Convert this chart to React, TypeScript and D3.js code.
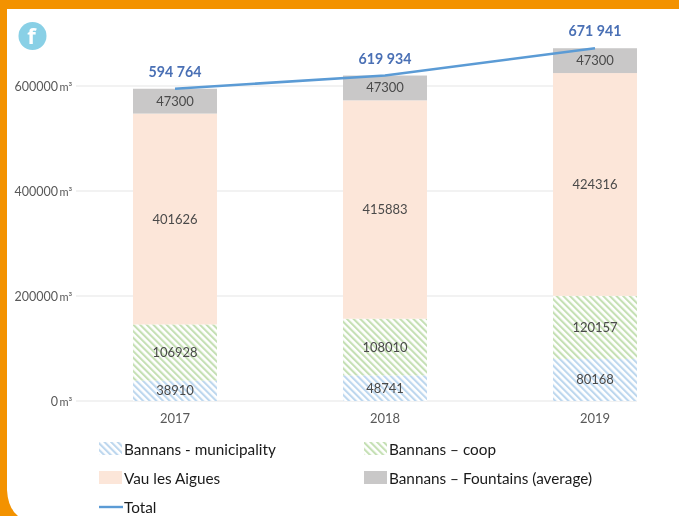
import React from "react";
import * as d3 from "d3";

const years = ["2017", "2018", "2019"];
const municipality = [38910, 48741, 80168];
const coop = [106928, 108010, 120157];
const vau = [401626, 415883, 424316];
const fountains = [47300, 47300, 47300];
const totals = [594764, 619934, 671941];
const totalLabels = ["594 764", "619 934", "671 941"];
const yTicks = [0, 200000, 400000, 600000];
const legendRows = [
  { label: "Bannans - municipality", fill: "url(#pBlue)", kind: "rect", col: 0, row: 0 },
  { label: "Bannans – coop", fill: "url(#pGreen)", kind: "rect", col: 1, row: 0 },
  { label: "Vau les Aigues", fill: "#fce6d9", kind: "rect", col: 0, row: 1 },
  { label: "Bannans – Fountains (average)", fill: "#c9c8c8", kind: "rect", col: 1, row: 1 },
  { label: "Total", fill: "#5b9bd5", kind: "line", col: 0, row: 2 },
];

const seriesKeys = ["municipality", "coop", "vau", "fountains"];
const seriesFills = ["url(#pBlue)", "url(#pGreen)", "#fce6d9", "#c9c8c8"];
const rows = years.map((y, i) => ({
  year: y,
  municipality: municipality[i],
  coop: coop[i],
  vau: vau[i],
  fountains: fountains[i],
}));

const FONT = "Lato, 'Open Sans', sans-serif";

export default function App() {
  const x = d3.scaleBand().domain(years).range([70, 700]).paddingInner(0.6).paddingOuter(0.3);
  const y = d3.scaleLinear().domain([0, 600000]).range([401, 86]);
  const stack = d3.stack<any>().keys(seriesKeys)(rows);
  const cx = (yr: string) => (x(yr) as number) + x.bandwidth() / 2;
  const line = d3
    .line<number>()
    .x((_, i) => cx(years[i]))
    .y((d) => y(d));
  const legendX = [99, 364];
  const legendY = [449, 478, 507];

  return (
    <svg
      width={679}
      height={516}
      viewBox="0 0 679 516"
      style={{ position: "absolute", left: 0, top: 0, display: "block", background: "#fff", filter: "blur(0.35px)" }}
    >
      <defs>
        <pattern id="pBlue" width="4.7" height="4.7" patternUnits="userSpaceOnUse" patternTransform="rotate(-45)">
          <rect width="4.7" height="4.7" fill="#fff" />
          <rect width="2.1" height="4.7" fill="#bdd7ee" />
        </pattern>
        <pattern id="pGreen" width="4.7" height="4.7" patternUnits="userSpaceOnUse" patternTransform="rotate(-45)">
          <rect width="4.7" height="4.7" fill="#fff" />
          <rect width="2.1" height="4.7" fill="#c5e0b4" />
        </pattern>
      </defs>

      <path d="M0 0H679V9H7V490Q8 508 18 516H0Z" fill="#f39200" />
      <circle cx={32.5} cy={36} r={14} fill="#89d0e6" />
      <text x={31.5} y={44} textAnchor="middle" fontFamily="'Open Sans', sans-serif" fontWeight={700} fontSize={22} fill="#fff">
        f
      </text>

      {yTicks.map((t) => (
        <g key={t}>
          <line x1={76} x2={637} y1={y(t)} y2={y(t)} stroke="#eeeeee" strokeWidth={1.4} />
          <text x={58} y={y(t) + 4.5} textAnchor="end" fontFamily={FONT} fontSize={12.5} fill="#595959">
            {t}
          </text>
          <text x={59.5} y={y(t) + 4.5} fontFamily={FONT} fontSize={11} fill="#595959">
            m³
          </text>
        </g>
      ))}

      {stack.map((s, si) =>
        s.map((d, i) => (
          <g key={`${si}-${i}`}>
            <rect
              x={x(years[i])}
              width={x.bandwidth()}
              y={y(d[1])}
              height={y(d[0]) - y(d[1])}
              fill={seriesFills[si]}
            />
          </g>
        ))
      )}
      {stack.map((s, si) =>
        s.map((d, i) => (
          <text
            key={`${si}-${i}`}
            x={cx(years[i])}
            y={y((d[0] + d[1]) / 2) + 4.5}
            textAnchor="middle"
            fontFamily={FONT}
            fontSize={13}
            fill="#4a4a4a"
          >
            {d[1] - d[0]}
          </text>
        ))
      )}

      <path d={line(totals) as string} fill="none" stroke="#5b9bd5" strokeWidth={2.6} />
      {totals.map((t, i) => (
        <text
          key={t}
          x={cx(years[i])}
          y={y(t) - 12}
          textAnchor="middle"
          fontFamily={FONT}
          fontWeight={700}
          fontSize={14.2}
          fill="#4a70b5"
        >
          {totalLabels[i]}
        </text>
      ))}

      {years.map((yr) => (
        <text key={yr} x={cx(yr)} y={423} textAnchor="middle" fontFamily={FONT} fontSize={13} fill="#595959">
          {yr}
        </text>
      ))}

      {legendRows.map((l) => {
        const lx = legendX[l.col];
        const ly = legendY[l.row];
        return (
          <g key={l.label}>
            {l.kind === "rect" ? (
              <rect x={lx} y={ly - 7} width={23} height={13} fill={l.fill} />
            ) : (
              <line x1={lx} x2={lx + 24} y1={ly} y2={ly} stroke={l.fill} strokeWidth={2.4} />
            )}
            <text x={lx + 25} y={ly + 5.5} fontFamily={FONT} fontSize={15.3} fill="#1a1a1a">
              {l.label}
            </text>
          </g>
        );
      })}
    </svg>
  );
}
